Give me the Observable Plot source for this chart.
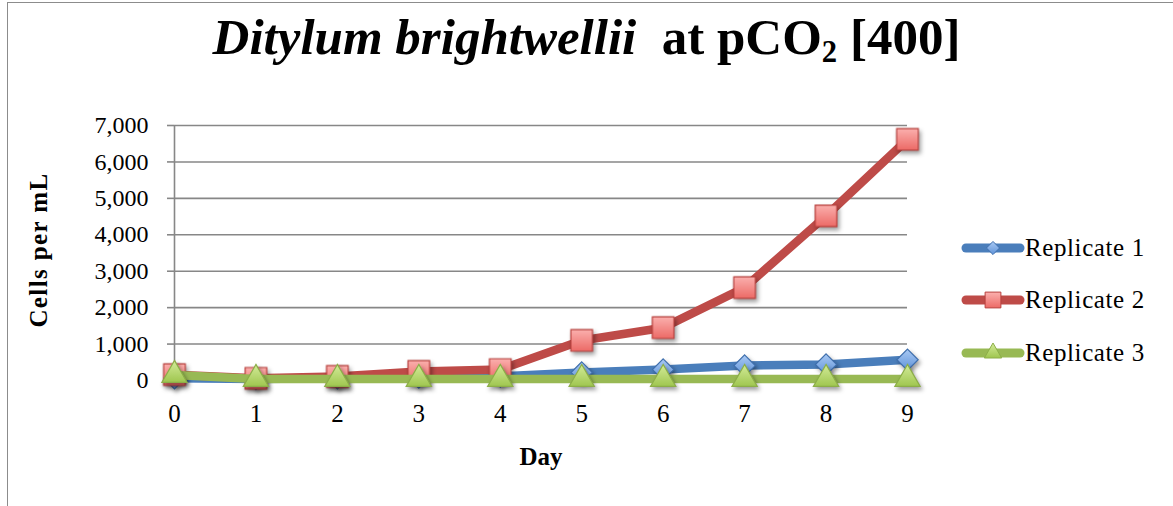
<!DOCTYPE html>
<html><head><meta charset="utf-8">
<script src="https://cdn.jsdelivr.net/npm/d3@7"></script>
<script src="https://cdn.jsdelivr.net/npm/@observablehq/plot@0.6"></script>
<style>
body{margin:0;background:#fff;}
#wrap{position:relative;width:1173px;height:506px;overflow:hidden;font-family:"Liberation Serif",serif;color:#000;background:#fff;}
#frame{position:absolute;left:7px;top:2px;width:1300px;height:700px;border-left:1.5px solid #8c8c8c;border-top:1.5px solid #8c8c8c;}
#chart{position:absolute;left:0;top:0;}
#title{position:absolute;left:0;top:12px;width:1173px;text-align:center;font-weight:bold;font-size:51px;line-height:1;white-space:nowrap;}
#title sub{font-size:0.6em;vertical-align:-0.25em;line-height:0;}
#ylab{position:absolute;left:39px;top:250px;transform:translate(-50%,-50%) rotate(-90deg);font-weight:bold;font-size:25px;letter-spacing:1.4px;white-space:nowrap;}
#xlab{position:absolute;left:541px;top:457px;transform:translate(-50%,-50%);font-weight:bold;font-size:25px;white-space:nowrap;}
.leg{position:absolute;left:960px;display:flex;align-items:center;font-size:25px;letter-spacing:0.6px;white-space:nowrap;transform:translateY(-50%);}
.leg svg{margin-right:1px;overflow:visible;}
#chart g[aria-label="dot"]{filter:drop-shadow(2px 3px 2px rgba(0,0,0,0.38));}
</style>
</head><body>
<div id="wrap">
  <div id="frame"></div>
  <div id="chart"></div>
  <div id="title"><i>Ditylum brightwellii</i>&nbsp; at pCO<sub>2</sub> [400]</div>
  <div id="ylab">Cells per mL</div>
  <div id="xlab">Day</div>
</div>
<script>
// ---- data ----
const days = [0, 1, 2, 3, 4, 5, 6, 7, 8, 9];
const replicate1 = [60, 40, 60, 80, 110, 220, 300, 410, 440, 570];
const replicate2 = [160, 60, 110, 250, 300, 1100, 1450, 2550, 4520, 6620];
const replicate3 = [150, 40, 40, 40, 40, 40, 40, 40, 40, 40];
const seriesNames = ["Replicate 1", "Replicate 2", "Replicate 3"];
const yTicks = [0, 1000, 2000, 3000, 4000, 5000, 6000, 7000];

// ---- styling ----
const styles = [
  {stroke: "#4a7ebb", fill: "url(#gBlue)", edge: "#3f6fad", symbol: "diamond2", d3sym: d3.symbolDiamond2, r: 9.6, legSize: 110},
  {stroke: "#be4b48", fill: "url(#gRed)", edge: "#b8403d", symbol: "square", d3sym: d3.symbolSquare, r: 12.2, legSize: 250},
  {stroke: "#98b954", fill: "url(#gGreen)", edge: "#8cae48", symbol: "triangle", d3sym: d3.symbolTriangle, r: 9.4, legSize: 130}
];
const allValues = [replicate1, replicate2, replicate3];

const gradients = [
  ["gBlue", "#a9c9f4", "#5f93d8"],
  ["gRed", "#fbb0ae", "#ec6a66"],
  ["gGreen", "#d3eb99", "#9fc64f"]
];

function defsMark() {
  const defs = d3.create("svg:defs");
  for (const [id, a, b] of gradients) {
    const g = defs.append("linearGradient").attr("id", id).attr("x1", 0).attr("y1", 0).attr("x2", 0).attr("y2", 1);
    g.append("stop").attr("offset", "0%").attr("stop-color", a);
    g.append("stop").attr("offset", "100%").attr("stop-color", b);
  }
  return defs.node();
}

const marks = [
  defsMark,
  Plot.gridY(yTicks, {stroke: "#878787", strokeOpacity: 1, strokeWidth: 1.6}),
  Plot.ruleX([0], {stroke: "#878787", strokeWidth: 1.6}),
  Plot.axisY(yTicks, {tickSize: 7, tickPadding: 19, stroke: "#878787", strokeWidth: 1.6, tickFormat: d3.format(","), fontSize: 24, label: null}),
  Plot.axisX(days, {tickSize: 0, tickPadding: 24, fontSize: 25, label: null, tickFormat: d => String(d)})
];
allValues.forEach((vals, k) => {
  const s = styles[k];
  marks.push(Plot.line(days, {x: d => d, y: (d, i) => vals[i], stroke: s.stroke, strokeWidth: 8.5, strokeLinejoin: "round", strokeLinecap: "round"}));
  marks.push(Plot.dot(days, {x: d => d, y: (d, i) => vals[i], symbol: s.symbol, r: s.r, fill: s.fill, stroke: s.edge, strokeWidth: 1.2}));
});

const chart = Plot.plot({
  width: 1173,
  height: 506,
  marginTop: 125,
  marginBottom: 126,
  marginLeft: 174,
  marginRight: 266,
  style: {fontFamily: "Liberation Serif", fontSize: "23px", color: "#000", background: "transparent", overflow: "visible"},
  x: {domain: [0, 9], axis: null},
  y: {domain: [0, 7000], axis: null},
  marks
});
document.getElementById("chart").appendChild(chart);

// legend
const legendY = [248, 300, 353];
seriesNames.forEach((name, k) => {
  const s = styles[k];
  const div = document.createElement("div");
  div.className = "leg";
  div.style.top = legendY[k] + "px";
  const svg = d3.create("svg").attr("width", 64).attr("height", 24);
  const defs = svg.append("defs");
  const [id, a, b] = gradients[k];
  const g = defs.append("linearGradient").attr("id", id + "L").attr("x1", 0).attr("y1", 0).attr("x2", 0).attr("y2", 1);
  g.append("stop").attr("offset", "0%").attr("stop-color", a);
  g.append("stop").attr("offset", "100%").attr("stop-color", b);
  svg.append("line").attr("x1", 6).attr("x2", 60).attr("y1", 12).attr("y2", 12)
    .attr("stroke", s.stroke).attr("stroke-width", 9).attr("stroke-linecap", "round");
  svg.append("path").attr("transform", "translate(33,12)")
    .attr("d", d3.symbol(s.d3sym, s.legSize)())
    .attr("fill", `url(#${id}L)`).attr("stroke", s.edge).attr("stroke-width", 1);
  div.appendChild(svg.node());
  const span = document.createElement("span");
  span.textContent = name;
  div.appendChild(span);
  document.getElementById("wrap").appendChild(div);
});
</script>
</body></html>
